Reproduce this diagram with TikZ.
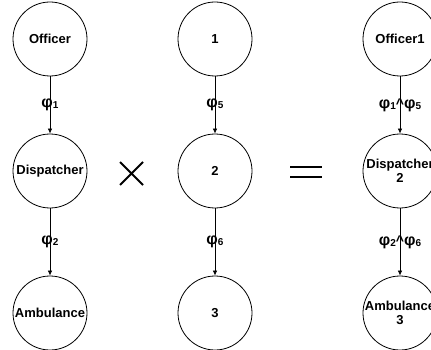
\documentclass[tikz,border=0pt]{standalone}
\usepackage{fontspec}
\setmainfont{Liberation Sans}
\usetikzlibrary{arrows.meta}
\newcommand{\phis}[1]{{\fontsize{16}{16}\selectfont\bfseries φ}\raisebox{-1pt}{\fontsize{10}{10}\selectfont\bfseries #1}}

\begin{document}
\begin{tikzpicture}[x=1pt,y=-1pt,
  state/.style={draw,circle,line width=0.8pt,minimum size=74pt,inner sep=0pt,
    align=center,font=\fontsize{13}{14}\selectfont\bfseries},
  flow/.style={draw,line width=0.7pt,-{Latex[length=5pt,width=4.5pt]}},
  lbl/.style={font=\bfseries,inner sep=0pt},
  sign/.style={line width=1.8pt}]
\useasboundingbox (0,0) rectangle (431,350);

%%%%% first product
\node[state] (off) at (50,39) {Officer};
\node[state] (dis) at (50,171) {Dispatcher};
\node[state] (amb) at (50,313) {Ambulance};
\draw[flow] (off) -- node[lbl]{\phis{1}} (dis);
\draw[flow] (dis) -- node[lbl]{\phis{2}} (amb);

%%%%% second
\node[state] (one) at (215,39) {1};
\node[state] (two) at (215,171) {2};
\node[state] (three) at (215,313) {3};
\draw[flow] (one) -- node[lbl]{\phis{5}} (two);
\draw[flow] (two) -- node[lbl]{\phis{6}} (three);

%%%%% result
\node[state] (offone) at (400,39) {Officer1};
\node[state] (distwo) at (400,171) {Dispatcher\\2};
\node[state] (ambthree) at (400,313) {Ambulance\\3};
\draw[flow] (offone) -- node[lbl]{\phis{1}{\fontsize{14}{14}\selectfont\textasciicircum}\phis{5}} (distwo);
\draw[flow] (distwo) -- node[lbl]{\phis{2}{\fontsize{14}{14}\selectfont\textasciicircum}\phis{6}} (ambthree);

%%%%% signs
\draw[sign] (120,162) -- (143,185) (120,185) -- (143,162);
\draw[sign] (290,167) -- (322,167) (290,177) -- (322,177);
\end{tikzpicture}
\end{document}
